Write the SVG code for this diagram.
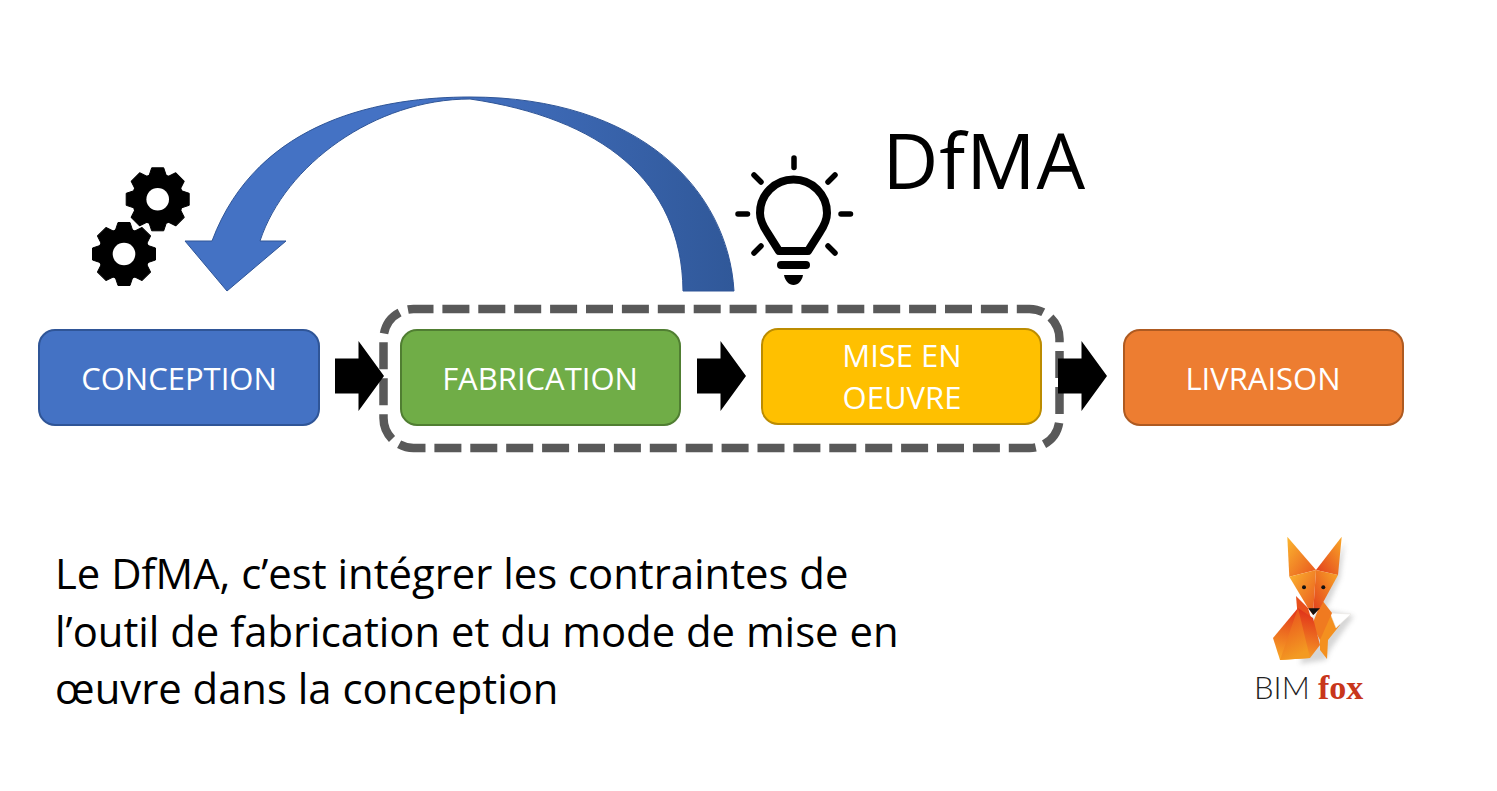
<svg xmlns="http://www.w3.org/2000/svg" width="1497" height="791" viewBox="0 0 1497 791">
<style>
text{font-family:"Open Sans","Noto Sans","Liberation Sans",sans-serif}
.lbl{font-size:31px;fill:#fff;text-anchor:middle}
.para{font-size:41.8px;fill:#000}
.box{stroke-width:2}
</style>
<defs>
<linearGradient id="curve" gradientUnits="userSpaceOnUse" x1="185" y1="0" x2="734" y2="0"><stop offset="0" stop-color="#4472C4"/><stop offset="0.45" stop-color="#4472C4"/><stop offset="1" stop-color="#305899"/></linearGradient>
<linearGradient id="f1" x1="0" y1="0" x2="1" y2="1"><stop offset="0" stop-color="#FBB62F"/><stop offset="1" stop-color="#E8551E"/></linearGradient>
<linearGradient id="f2" x1="1" y1="0" x2="0" y2="1"><stop offset="0" stop-color="#F9A828"/><stop offset="1" stop-color="#E23C1C"/></linearGradient>
<linearGradient id="f3" x1="0.6" y1="0" x2="0.4" y2="1"><stop offset="0" stop-color="#E0301A"/><stop offset="1" stop-color="#F8A426"/></linearGradient>
<linearGradient id="f4" x1="0" y1="0" x2="0.3" y2="1"><stop offset="0" stop-color="#E8481C"/><stop offset="1" stop-color="#F39A22"/></linearGradient>
<filter id="soft" x="-20%" y="-20%" width="140%" height="140%"><feGaussianBlur stdDeviation="2.5"/></filter>
<g id="gear">
<circle r="26" fill="#000"/>
<polygon id="tooth" points="-8.5,-24 -6,-31.5 6,-31.5 8.5,-24" fill="#000" stroke="#000" stroke-width="1" stroke-linejoin="round"/>
<use href="#tooth" transform="rotate(45)"/>
<use href="#tooth" transform="rotate(90)"/>
<use href="#tooth" transform="rotate(135)"/>
<use href="#tooth" transform="rotate(180)"/>
<use href="#tooth" transform="rotate(225)"/>
<use href="#tooth" transform="rotate(270)"/>
<use href="#tooth" transform="rotate(315)"/>
<circle r="11.3" fill="#fff"/>
</g>
<polygon id="arrow" points="0,-17.5 23.5,-17.5 23.5,-35 49,0 23.5,35 23.5,17.5 0,17.5" fill="#000"/>
</defs>
<rect width="1497" height="791" fill="#fff"/>

<g id="dfma-group"><rect x="383.5" y="309" width="676" height="139" rx="30" ry="30" fill="none" stroke="#595959" stroke-width="8.5" stroke-dasharray="27 8.9" stroke-dashoffset="7"/></g>

<g id="connectors">
<use href="#arrow" transform="translate(335,376)"/>
<use href="#arrow" transform="translate(697,376)"/>
<use href="#arrow" transform="translate(1058,376)"/>
<path id="feedback-arrow" d="M734,291 C728,190 640,97 470,97 C385,97 258,118 212,241 L185,241 L227,291 L286,241 L260,241 C285,165 375,99 470,99 C600,118 682,180 683,291 Z" fill="url(#curve)" stroke="#2F5597" stroke-width="1"/>
</g>

<g id="conception"><rect class="box" x="39" y="330" width="280" height="95" rx="16" fill="#4472C4" stroke="#2F5597"/><text class="lbl" x="179" y="390">CONCEPTION</text></g>
<g id="fabrication"><rect class="box" x="401" y="330" width="279" height="95" rx="16" fill="#70AD47" stroke="#507E32"/><text class="lbl" x="540" y="390">FABRICATION</text></g>
<g id="mise-en-oeuvre"><rect class="box" x="762" y="329" width="279" height="95" rx="16" fill="#FFC000" stroke="#BC8C00"/><text class="lbl" x="902" y="367">MISE EN</text><text class="lbl" x="902" y="409">OEUVRE</text></g>
<g id="livraison"><rect class="box" x="1124" y="330" width="279" height="95" rx="16" fill="#ED7D31" stroke="#AE5A21"/><text class="lbl" x="1263" y="390">LIVRAISON</text></g>

<g id="gears"><use href="#gear" transform="translate(157.7,199.3)"/><use href="#gear" transform="translate(124,254)"/></g>

<g id="bulb" fill="none" stroke="#000" stroke-linecap="round">
<path d="M779,251 H808 L820,232 C824,226 827,220 827,213 A33.5,33.5 0 0 0 760,213 C760,220 763,226 767,232 Z" stroke-width="8" stroke-linejoin="round"/>
<path d="M781,265 H806" stroke-width="8"/>
<path fill="#000" stroke="none" d="M784,275 H803 C802,281 798,285 793.5,285 C789,285 785,281 784,275 Z"/>
<path d="M794,158 V167.5 M754,175 L761,182 M835,175 L828,182 M738,214 H747.5 M841,214 H850.5 M754,253 L761,246 M835,253 L828,246" stroke-width="5.5"/>
</g>

<g id="title"><text x="882.5" y="189" font-size="77" letter-spacing="1" fill="#000">DfMA</text></g>

<g id="description">
<text class="para" x="55" y="589">Le DfMA, c’est intégrer les contraintes de</text>
<text class="para" x="55" y="647">l’outil de fabrication et du mode de mise en</text>
<text class="para" x="55" y="704">œuvre dans la conception</text>
</g>

<g id="bimfox-logo">
<polygon points="1345,541 1340,578 1326,610 1354,616 1330,650 1326,660 1300,664 1320,600" fill="#777" opacity="0.3" filter="url(#soft)"/>
<polygon points="1330,613 1320,632 1320,650 1327,659 1328,640 1340,625" fill="#F4901F"/>
<polygon points="1330,613 1351,614 1336,628" fill="#fff" stroke="#e6e2dc" stroke-width="0.5"/>
<polygon points="1296,596 1308,608 1313,625 1298,620" fill="#E8501C"/>
<polygon points="1322,600 1332,613 1320,640 1312,625" fill="#F07A20"/>
<polygon points="1287.3,536.7 1316,570 1289.3,576.7" fill="url(#f1)"/>
<polygon points="1341.7,536.7 1316,570 1338,575" fill="url(#f2)"/>
<polygon points="1289.3,576.7 1316,570 1313,615 1308,608" fill="url(#f1)"/>
<polygon points="1338,575 1316,570 1313,615 1320,608" fill="url(#f2)"/>
<polygon points="1298,608 1273,638 1280,660 1310,658 1320,645 1313,618" fill="url(#f3)"/>
<polygon points="1298,608 1280,660 1310,658" fill="url(#f4)"/>
<polygon points="1308.3,608.3 1320,608.3 1313.3,615" fill="#111"/>
<circle cx="1304" cy="587.3" r="2" fill="#111"/><circle cx="1323.3" cy="587.3" r="2" fill="#111"/>
<text x="1254" y="699" font-size="31" fill="#222" style="font-family:'Lato','Open Sans',sans-serif;font-weight:300">BIM</text>
<text x="1318" y="699" font-size="34" fill="#C8361B" style="font-family:'Liberation Serif',serif;font-weight:700">fox</text>
</g>
</svg>
